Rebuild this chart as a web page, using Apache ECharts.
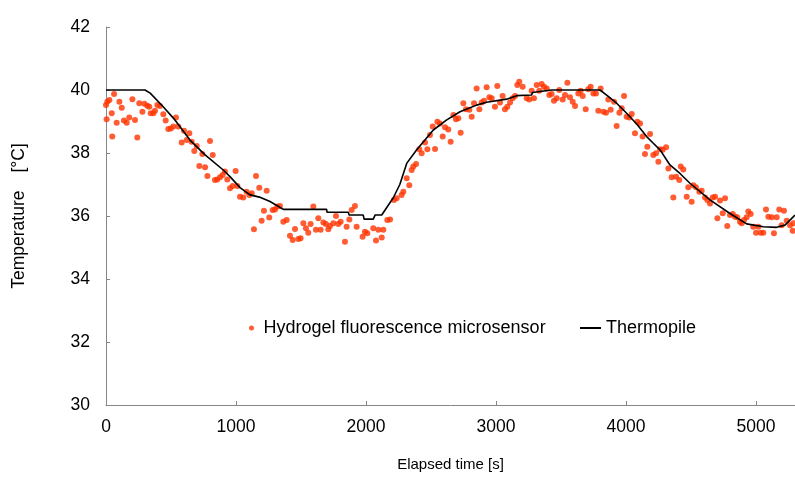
<!DOCTYPE html>
<html>
<head>
<meta charset="utf-8">
<script src="https://cdn.jsdelivr.net/npm/echarts@6/dist/echarts.min.js"></script>
<style>
html,body{margin:0;padding:0;background:#fff;}
#chart{width:795px;height:502px;}
</style>
</head>
<body>
<div id="chart"></div>
<script>
// Hydrogel fluorescence microsensor readings (time [s], temperature [°C])
var sensorTime = [0,5,10,26,44,48,62,82,103,121,138,159,179,203,223,241,256,280,295,318,333,344,364,377,395,415,441,459,479,498,518,538,556,582,600,621,641,659,679,698,718,741,762,780,800,821,838,856,877,897,915,933,954,974,997,1010,1031,1056,1082,1103,1121,1138,1154,1179,1197,1215,1236,1256,1282,1300,1318,1338,1364,1390,1415,1436,1454,1479,1497,1518,1538,1556,1574,1595,1615,1633,1651,1672,1692,1710,1723,1749,1769,1787,1805,1838,1851,1872,1890,1915,1928,1974,1992,2010,2056,2077,2095,2121,2133,2164,2185,2215,2236,2274,2287,2313,2333,2351,2364,2385,2410,2428,2454,2472,2492,2513,2531,2549,2569,2590,2608,2633,2651,2672,2692,2710,2728,2749,2769,2795,2813,2831,2851,2872,2890,2908,2928,2949,2967,2992,3010,3031,3051,3069,3087,3108,3128,3146,3164,3179,3205,3236,3256,3274,3292,3313,3333,3351,3369,3390,3410,3428,3446,3467,3487,3513,3531,3549,3569,3590,3608,3633,3651,3667,3690,3710,3728,3749,3769,3787,3805,3826,3846,3864,3882,3908,3928,3949,3967,3985,4005,4026,4044,4069,4087,4108,4128,4146,4164,4185,4210,4231,4249,4262,4282,4308,4326,4351,4364,4385,4410,4421,4441,4467,4479,4505,4518,4538,4564,4582,4608,4626,4646,4667,4685,4703,4723,4744,4762,4779,4800,4821,4838,4856,4877,4890,4908,4928,4941,4959,4979,5000,5018,5036,5056,5077,5095,5121,5138,5159,5179,5197,5215,5236,5262,5282,5287];
var sensorTemp = [39.52,39.07,39.63,39.68,39.26,38.52,39.87,38.96,39.63,39.44,39.03,38.96,39.13,39.71,39.05,38.49,39.58,39.31,39.56,39.50,39.47,39.26,39.26,39.34,39.52,39.49,39.23,39.03,38.76,38.78,38.84,39.13,38.84,38.33,38.71,38.41,38.63,38.36,38.06,38.22,37.59,37.97,37.55,37.27,38.38,37.94,37.14,37.16,37.23,37.30,37.41,37.16,36.88,36.95,37.43,36.95,36.61,36.59,36.77,36.67,36.72,35.58,37.27,36.90,35.85,36.17,36.80,35.95,36.19,36.21,36.30,36.32,35.82,35.87,35.37,35.24,35.59,35.27,35.29,35.77,35.61,35.47,35.75,36.30,35.56,35.93,35.56,35.79,35.75,35.58,35.68,35.77,36.00,35.75,35.82,35.18,35.66,35.89,36.19,36.32,35.66,35.34,35.50,35.45,35.61,35.22,35.56,35.32,35.56,35.87,35.89,36.51,36.56,36.67,36.77,37.20,36.98,37.46,37.57,37.65,38.12,37.99,38.33,38.12,38.57,38.84,38.13,38.99,38.94,38.52,38.82,38.75,38.36,39.21,39.07,39.10,38.64,39.58,39.39,39.37,39.15,39.58,40.05,39.39,39.60,39.66,40.09,39.77,39.74,39.47,40.13,39.60,39.81,39.39,39.47,39.60,39.74,39.81,40.16,40.26,40.10,39.74,39.70,39.98,39.74,40.16,39.98,40.19,40.10,40.05,39.84,39.87,39.66,39.74,40.00,39.70,39.84,40.23,39.77,39.63,39.49,39.89,39.98,39.81,39.39,40.02,40.10,39.89,39.89,39.34,40.05,39.31,39.28,39.70,39.37,39.63,38.86,39.28,39.42,39.81,39.15,39.13,39.24,38.63,38.99,38.94,38.52,37.97,38.20,38.60,37.94,37.99,37.72,38.12,38.10,38.18,37.51,37.23,36.59,37.25,37.14,37.57,37.48,36.61,36.91,36.45,36.98,36.91,36.77,36.80,36.59,36.51,36.40,36.59,36.61,35.93,36.49,36.09,36.56,35.68,36.03,36.06,35.98,35.96,35.82,35.77,35.87,35.96,36.14,36.06,35.66,35.47,35.66,35.47,35.47,36.21,35.98,35.96,35.45,35.96,36.21,35.71,36.17,35.85,35.71,35.53,35.77];

// Thermopile readings (time [s], temperature [°C])
var thermoTime = [0,300,340,440,520,646,760,902,954,1031,1108,1180,1262,1364,1697,1700,1864,1870,1979,1985,2056,2070,2121,2210,2260,2313,2390,2450,2518,2621,2723,2851,2928,3082,3159,3274,3280,3428,3800,3851,3928,4005,4082,4159,4210,4262,4338,4415,4492,4646,4800,4928,5056,5159,5223,5300];
var thermoTemp = [40.0,40.0,39.9,39.47,39.1,38.41,37.95,37.46,37.25,36.9,36.67,36.6,36.46,36.21,36.21,36.12,36.12,36.03,36.03,35.9,35.9,36.03,36.03,36.58,37.0,37.67,38.10,38.4,38.73,39.05,39.31,39.52,39.61,39.71,39.82,39.84,39.92,40.0,40.0,39.84,39.58,39.26,38.92,38.52,38.31,38.10,37.62,37.35,37.04,36.51,36.08,35.75,35.66,35.64,35.71,36.03];

var xTicks = [0, 5300, 1000];   // min, max, interval
var yTicks = [30, 42, 2];

var seriesNames = ['Hydrogel fluorescence microsensor', 'Thermopile'];
var axisNames = ['Elapsed time [s]', 'Temperature\u3000[\u00B0C]'];

function zip(a, b) { return a.map(function (v, i) { return [v, b[i]]; }); }

var font = 'Liberation Sans, Arial, sans-serif';
var chart = echarts.init(document.getElementById('chart'), null, {renderer: 'canvas'});
chart.setOption({
  animation: false,
  backgroundColor: '#ffffff',
  grid: {left: 106, right: 0, top: 27, bottom: 97, containLabel: false},
  legend: [{
    data: [{name: seriesNames[0], icon: 'circle'}],
    left: 244, top: 314, itemWidth: 14, itemHeight: 5,
    textStyle: {fontFamily: font, fontSize: 18, color: '#000'}
  }, {
    data: [{name: seriesNames[1], icon: 'rect'}],
    left: 575, top: 314, itemWidth: 21, itemHeight: 2,
    textStyle: {fontFamily: font, fontSize: 18, color: '#000'}
  }],
  xAxis: {
    type: 'value', min: xTicks[0], max: xTicks[1], interval: xTicks[2],
    name: axisNames[0], nameLocation: 'middle', nameGap: 52,
    nameTextStyle: {fontFamily: font, fontSize: 15, color: '#000'},
    axisLine: {show: true, lineStyle: {color: '#868686', width: 1}},
    axisTick: {show: true, inside: true, length: 4, lineStyle: {color: '#868686'}},
    axisLabel: {fontFamily: font, fontSize: 17.5, color: '#000', margin: 13, showMaxLabel: false,
      formatter: function (v) { return String(v); }},
    splitLine: {show: false}
  },
  yAxis: {
    type: 'value', min: yTicks[0], max: yTicks[1], interval: yTicks[2],
    name: axisNames[1], nameLocation: 'middle', nameGap: 78, nameRotate: 90,
    nameTextStyle: {fontFamily: font, fontSize: 17.5, color: '#000'},
    axisLine: {show: true, lineStyle: {color: '#868686', width: 1}},
    axisTick: {show: true, inside: true, length: 4, lineStyle: {color: '#868686'}},
    axisLabel: {fontFamily: font, fontSize: 17.5, color: '#000', margin: 16},
    splitLine: {show: false}
  },
  series: [{
    name: seriesNames[0], type: 'scatter', data: zip(sensorTime, sensorTemp),
    symbolSize: 6, itemStyle: {color: '#FF3300'}, z: 2
  }, {
    name: seriesNames[1], type: 'line', data: zip(thermoTime, thermoTemp),
    showSymbol: false, symbol: 'none', lineStyle: {color: '#000', width: 1.6},
    itemStyle: {color: '#000'}, z: 3
  }]
});
</script>
</body>
</html>
